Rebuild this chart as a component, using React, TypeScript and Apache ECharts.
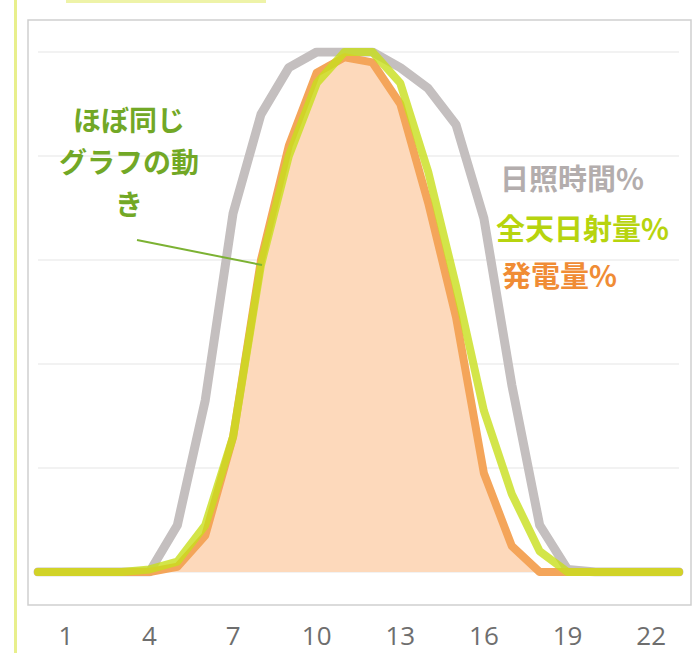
import React, { useEffect, useRef } from "react";
import * as echarts from "echarts";

const hours = ["0","1","2","3","4","5","6","7","8","9","10","11","12","13","14","15","16","17","18","19","20","21","22","23"];
const sunshine = [0,0,0,0,0,9,33,69,88,97,100,100,100,97,93,86,68,36,9,0.5,0,0,0,0];
const irradiance = [0,0,0,0,0.5,2,9,26,59,80,94,100,100,94,77,55,31,15,4,0,0,0,0,0];
const power = [0,0,0,0,0,1,7,26,60,82,96,99,98,90,71,49,19,5,0,0,0,0,0,0];
const noteLines = ["ほぼ同じ", "グラフの動", "き"];
const legendLabels = ["日照時間%", "全天日射量%", "発電量%"];

const FONT = '"Noto Sans CJK JP", "Noto Sans", sans-serif';

export default function App() {
  const ref = useRef<HTMLDivElement>(null);
  useEffect(() => {
    if (!ref.current) return;
    const chart = echarts.init(ref.current, null, { renderer: "svg" });
    chart.setOption({
      animation: false,
      backgroundColor: "#ffffff",
      grid: { left: 38, right: 17, top: 52, bottom: 81 },
      xAxis: {
        type: "category",
        data: hours,
        boundaryGap: false,
        axisLine: { show: false },
        axisTick: { show: false },
        splitLine: { show: false },
        axisLabel: {
          interval: (i: number) => i % 3 === 1,
          margin: 50,
          fontSize: 26,
          color: "#6e6e6e",
          fontFamily: '"Open Sans", sans-serif',
        },
      },
      yAxis: {
        type: "value",
        min: 0,
        max: 100,
        interval: 20,
        axisLine: { show: false },
        axisTick: { show: false },
        axisLabel: { show: false },
        splitLine: { lineStyle: { color: "#eeeeee", width: 1.5 } },
      },
      series: [
        {
          name: legendLabels[0],
          type: "line",
          data: sunshine,
          symbol: "none",
          z: 2,
          lineStyle: { color: "#c4bfbf", width: 9, cap: "round", join: "round" },
        },
        {
          name: legendLabels[2],
          type: "line",
          data: power,
          symbol: "none",
          z: 3,
          lineStyle: { color: "#f4a55a", width: 8, cap: "round", join: "round" },
          areaStyle: { color: "#fdd9bb", opacity: 1 },
        },
        {
          name: legendLabels[1],
          type: "line",
          data: irradiance,
          symbol: "none",
          z: 4,
          lineStyle: { color: "#c8de1c", width: 8, cap: "round", join: "round", opacity: 0.8 },
        },
      ],
      graphic: [
        { type: "rect", shape: { x: 14, y: 0, width: 3, height: 653 }, style: { fill: "#e8ef8c" }, z: 10 },
        { type: "rect", shape: { x: 66, y: 0, width: 200, height: 3 }, style: { fill: "#eef3a8" }, z: 10 },
        { type: "rect", shape: { x: 28, y: 20, width: 663, height: 585 }, style: { fill: "none", stroke: "#cfcfcf", lineWidth: 1.5 }, z: 10 },
        { type: "line", shape: { x1: 137, y1: 240, x2: 262, y2: 265 }, style: { stroke: "#7cb233", lineWidth: 2 }, z: 10 },
        ...noteLines.map((t, i) => ({
          type: "text",
          x: 129,
          y: 119 + i * 42,
          z: 10,
          style: {
            text: t,
            fill: "#72a826",
            font: `bold 28px ${FONT}`,
            align: "center",
            verticalAlign: "middle",
          },
        })),
        {
          type: "text", x: 500, y: 177, z: 10,
          style: { text: legendLabels[0], fill: "#b3adad", font: `bold 29px ${FONT}`, verticalAlign: "middle" },
        },
        {
          type: "text", x: 496, y: 227, z: 10,
          style: { text: legendLabels[1], fill: "#b7d40e", font: `bold 29px ${FONT}`, verticalAlign: "middle" },
        },
        {
          type: "text", x: 502, y: 274, z: 10,
          style: { text: legendLabels[2], fill: "#f08c35", font: `bold 29px ${FONT}`, verticalAlign: "middle" },
        },
      ],
    });
    return () => chart.dispose();
  }, []);
  return <div ref={ref} style={{ width: 696, height: 653, position: "absolute", left: 0, top: 0 }} />;
}
